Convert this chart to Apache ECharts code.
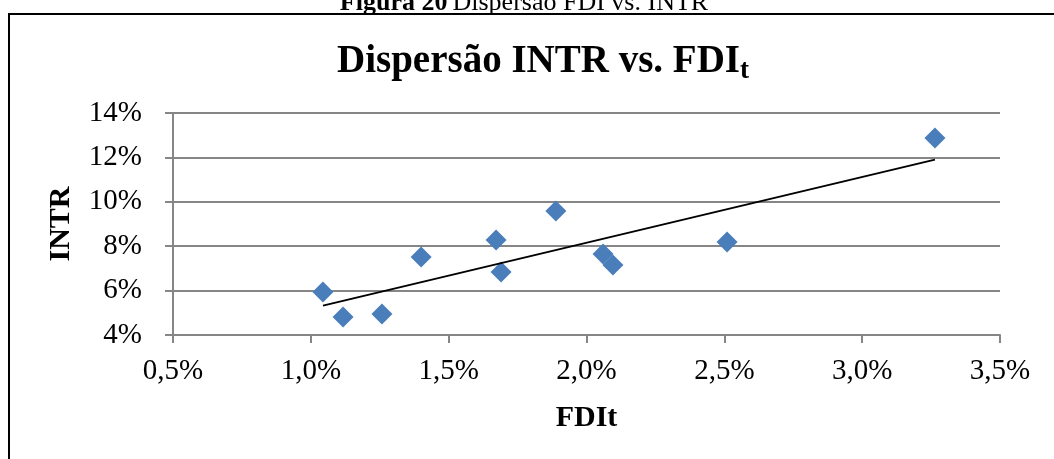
<!DOCTYPE html>
<html>
<head>
<meta charset="utf-8">
<script src="https://cdn.jsdelivr.net/npm/echarts@6/dist/echarts.min.js"></script>
<style>
  html, body { margin: 0; padding: 0; background: #fff; }
  #chart { width: 1054px; height: 459px; }
</style>
</head>
<body>
<div id="chart"></div>
<script>
// FDIt (%) and INTR (%)
var fdi = [1.044, 1.117, 1.258, 1.40, 1.672, 1.69, 1.889, 2.06, 2.096, 2.51, 3.264];
var intr = [5.94, 4.81, 4.95, 7.51, 8.28, 6.84, 9.59, 7.65, 7.15, 8.19, 12.87];

var points = fdi.map(function (x, i) { return [x, intr[i]]; });

// linear trend line (least squares) over the data range
function trend(xs, ys) {
  var n = xs.length, mx = 0, my = 0, sxy = 0, sxx = 0;
  for (var i = 0; i < n; i++) { mx += xs[i]; my += ys[i]; }
  mx /= n; my /= n;
  for (var j = 0; j < n; j++) {
    sxy += (xs[j] - mx) * (ys[j] - my);
    sxx += (xs[j] - mx) * (xs[j] - mx);
  }
  var b = sxy / sxx, a = my - b * mx;
  var x0 = Math.min.apply(null, xs), x1 = Math.max.apply(null, xs);
  return [[x0, a + b * x0], [x1, a + b * x1]];
}

var serif = 'Liberation Serif';
var chart = echarts.init(document.getElementById('chart'));
chart.setOption({
  animation: false,
  title: [{
    text: '{a|Dispersão INTR vs. FDI}{b|t}',
    left: 538,
    textAlign: 'center',
    top: 33,
    textStyle: {
      rich: {
        a: { fontFamily: serif, fontWeight: 'bold', fontSize: 39, color: '#000' },
        b: { fontFamily: serif, fontWeight: 'bold', fontSize: 27, color: '#000', verticalAlign: 'bottom', padding: [20, 0, 0, 0] }
      }
    }
  }, {
    text: '{a|Figura 20} {b|Dispersão FDI vs. INTR}',
    left: 519,
    textAlign: 'center',
    top: -15,
    textStyle: {
      rich: {
        a: { fontFamily: serif, fontWeight: 'bold', fontSize: 26, color: '#000' },
        b: { fontFamily: serif, fontWeight: 'normal', fontSize: 26, color: '#000' }
      }
    }
  }],
  graphic: [{
    type: 'polyline',
    shape: { points: [[9, 470], [9, 14], [1060, 14]] },
    style: { stroke: '#000', lineWidth: 2, fill: null },
    silent: true
  }],
  grid: { left: 173, right: 54, top: 113, bottom: 124 },
  xAxis: {
    type: 'value',
    min: 0.5, max: 3.5, interval: 0.5,
    name: 'FDIt',
    nameLocation: 'middle',
    nameGap: 68,
    nameTextStyle: { fontFamily: serif, fontWeight: 'bold', fontSize: 30, color: '#000' },
    axisLine: { show: true, lineStyle: { color: '#868686', width: 2 } },
    axisTick: { show: true, length: 8, lineStyle: { color: '#868686', width: 2 } },
    axisLabel: {
      fontFamily: serif, fontSize: 29, color: '#000', margin: 22,
      formatter: function (v) { return v.toFixed(1).replace('.', ',') + '%'; }
    },
    splitLine: { show: false }
  },
  yAxis: {
    type: 'value',
    min: 4, max: 14, interval: 2,
    name: 'INTR',
    nameLocation: 'middle',
    nameGap: 97,
    nameTextStyle: { fontFamily: serif, fontWeight: 'bold', fontSize: 30, color: '#000' },
    axisLine: { show: true, lineStyle: { color: '#868686', width: 2 } },
    axisTick: { show: true, length: 8, lineStyle: { color: '#868686', width: 2 } },
    axisLabel: {
      fontFamily: serif, fontSize: 29, color: '#000', margin: 31,
      formatter: function (v) { return v + '%'; }
    },
    splitLine: { show: true, lineStyle: { color: '#868686', width: 2 } }
  },
  series: [{
    type: 'scatter',
    data: points,
    symbol: 'diamond',
    symbolSize: 21,
    itemStyle: { color: '#4a7ebb', opacity: 1 },
    z: 3
  }, {
    type: 'line',
    data: trend(fdi, intr),
    symbol: 'none',
    lineStyle: { color: '#000', width: 2 },
    z: 4
  }]
});
</script>
</body>
</html>
